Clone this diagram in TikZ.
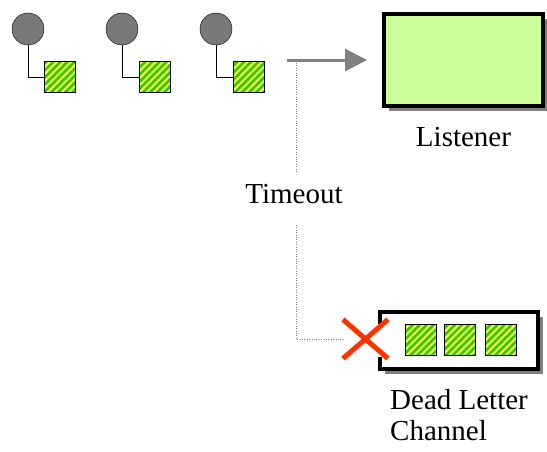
\documentclass[tikz,border=0pt]{standalone}
\usepackage{fontspec}
\setmainfont{Liberation Serif}
\usetikzlibrary{calc,arrows.meta}
\usetikzlibrary{positioning,shadows,patterns.meta,shapes.misc}
\definecolor{msggreen}{HTML}{33CC00}
\definecolor{msgyellow}{HTML}{FFFF55}
\definecolor{listenergreen}{HTML}{CCFF99}
\definecolor{crossred}{HTML}{FF3300}
\tikzset{
  circ/.style={circle, draw=black, fill=gray!95!black, minimum size=32pt, inner sep=0pt},
  msg/.style={draw=black, thick, minimum size=31pt, inner sep=0pt,
    preaction={fill=msggreen},
    pattern={Lines[angle=45,distance=5pt,line width=2pt]}, pattern color=msgyellow},
  box/.style={draw=black, line width=4pt, inner sep=0pt,
    drop shadow={shadow xshift=5pt, shadow yshift=-5pt, fill=gray, opacity=1}},
  lbl/.style={font=\fontsize{29}{31}\selectfont, inner sep=0pt}
}
\begin{document}
\begin{tikzpicture}[x=1pt,y=-1pt]
\useasboundingbox (0,0) rectangle (547,451);
%% messages
\node[circ] (c1) at (28,29){};
\node[circ] (c2) at (122,29){};
\node[circ] (c3) at (216,29){};
\node[msg] (m1) at (60,77){};
\node[msg] (m2) at (154.5,77){};
\node[msg] (m3) at (248.5,77){};
\draw (c1.south) |- (m1.west);
\draw (c2.south) |- (m2.west);
\draw (c3.south) |- (m3.west);
%% listener
\node[box, fill=listenergreen, minimum width=159pt, minimum height=92pt] (listener) at (463.5,60){};
\node[lbl, anchor=base] (listenerlbl) at (463.5,146){Listener};
\coordinate (split) at (287,60);
\draw[gray, line width=3pt, -{Triangle[length=22pt,width=22pt]}, shorten >=15pt] (split) -- (listener.west);
%% dead letter channel
\node[box, fill=white, minimum width=158pt, minimum height=57pt] (dlc) at (459,340.5){};
\fill[white] (375,324) rectangle (385,357);
\node[msg] (q1) at (420.5,339.5){};
\node[msg] (q2) at (459.5,339.5){};
\node[msg] (q3) at (500.5,339.5){};
\node[cross out, draw=crossred, line width=5pt, minimum width=40pt, minimum height=34pt] (xmark) at (365.5,339){};
\node[lbl, anchor=north west, align=left] (dlclbl) at (390,389){Dead Letter\\Channel};
%% timeout path
\node[lbl, anchor=base] (timeout) at (294,203){Timeout};
\coordinate (tap) at (296,63);
\draw[gray, dotted] (tap) -- (tap |- 0,173);
\draw[gray, dotted] (tap |- 0,225) |- (xmark.west);
\end{tikzpicture}
\end{document}
